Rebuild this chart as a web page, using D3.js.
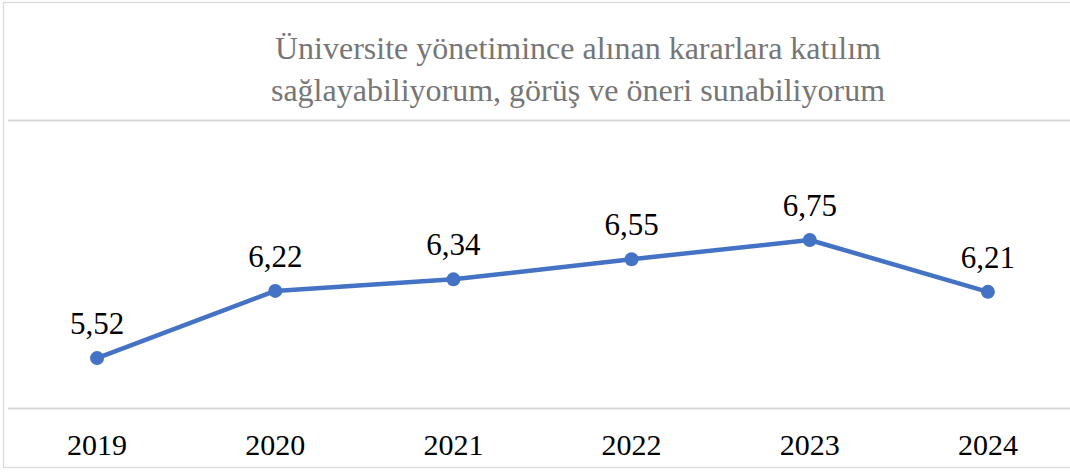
<!DOCTYPE html>
<html>
<head>
<meta charset="utf-8">
<script src="https://cdn.jsdelivr.net/npm/d3@7"></script>
</head>
<body style="margin:0">
<div id="chart"></div>
<script>
const years = ["2019", "2020", "2021", "2022", "2023", "2024"];
const values = [5.52, 6.22, 6.34, 6.55, 6.75, 6.21];
const yTicks = [5, 8];
const titleLines = [
    "Üniversite yönetimince alınan kararlara katılım",
    "sağlayabiliyorum, görüş ve öneri sunabiliyorum"
];

function serif(sel) {
    sel.attr("font-family", "Liberation Serif")
        .style("font-family", "Liberation Serif");
}

function drawChart() {
    let width = 1070, height = 472;
    let plot = { left: 8, right: 1077, top: 120, bottom: 408 };

    let svg = d3.select("#chart")
        .append("svg")
        .attr("width", width)
        .attr("height", height)
        .call(serif);

    // chart border (right edge falls outside the crop)
    svg.append("rect")
        .attr("x", 3.5).attr("y", 2.5)
        .attr("width", 1085).attr("height", 465)
        .attr("fill", "#fff")
        .attr("stroke", "#d9d9d9")
        .attr("stroke-width", 1.3);

    let x = d3.scaleBand()
        .domain(years)
        .range([plot.left, plot.right]);

    let y = d3.scaleLinear()
        .domain([5, 8])
        .range([plot.bottom, plot.top]);

    // gridlines
    svg.append("g")
        .attr("transform", `translate(${plot.left}, 0)`)
        .call(d3.axisLeft(y).tickValues(yTicks).tickSize(-(plot.right - plot.left)).tickFormat(""))
        .call(g => g.select(".domain").remove())
        .call(g => g.selectAll("line").attr("stroke", "#d9d9d9").attr("stroke-width", 2));

    // category labels
    svg.append("g")
        .attr("transform", `translate(0, ${plot.bottom})`)
        .call(d3.axisBottom(x).tickSize(0).tickPadding(26))
        .call(g => g.select(".domain").remove())
        .call(serif)
        .call(g => g.selectAll("text")
            .call(serif)
            .attr("font-size", 30)
            .attr("fill", "#000"));

    let cx = (d, i) => x(years[i]) + x.bandwidth() / 2;

    let line = d3.line()
        .x((d, i) => cx(d, i))
        .y(d => y(d));

    svg.append("path")
        .datum(values)
        .attr("d", line)
        .attr("fill", "none")
        .attr("stroke", "#4472c4")
        .attr("stroke-width", 4.5)
        .attr("stroke-linejoin", "round");

    svg.append("g").selectAll("circle")
        .data(values)
        .enter().append("circle")
        .attr("cx", cx)
        .attr("cy", d => y(d))
        .attr("r", 7)
        .attr("fill", "#4472c4");

    // data labels
    svg.append("g").selectAll("text")
        .data(values)
        .enter().append("text")
        .attr("x", cx)
        .attr("y", d => y(d) - 24)
        .attr("text-anchor", "middle")
        .call(serif)
        .attr("font-size", 31)
        .attr("fill", "#000")
        .text(d => d.toFixed(2).replace(".", ","));

    // title
    svg.append("g").selectAll("text")
        .data(titleLines)
        .enter().append("text")
        .attr("x", 578)
        .attr("y", (d, i) => 59 + i * 42)
        .attr("text-anchor", "middle")
        .call(serif)
        .attr("font-size", 32)
        .attr("fill", "#767676")
        .text(d => d);
}

drawChart();
</script>
</body>
</html>
